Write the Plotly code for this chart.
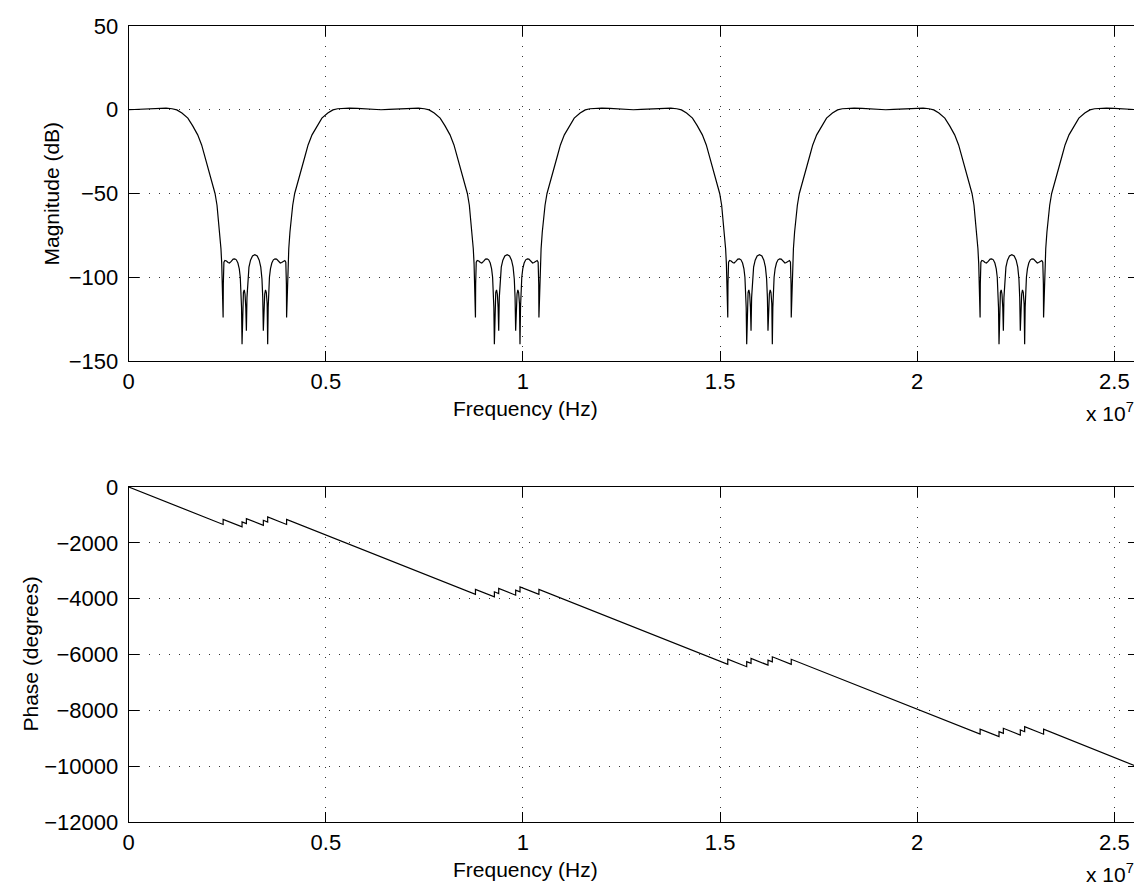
import plotly.graph_objects as go

# ---------------- data (frequency in units of 1e7 Hz) ----------------
# One period of the magnitude response, offsets from the passband centre
period_offset = [
    0.000, 0.020, 0.040, 0.060, 0.080, 0.095, 0.110, 0.122, 0.135, 0.150,
    0.162, 0.175, 0.185, 0.192, 0.199, 0.205, 0.212, 0.219, 0.224, 0.2275,
    0.231, 0.234, 0.236, 0.2375, 0.2395,
    0.2400, 0.2407, 0.2415, 0.2440, 0.2480, 0.2520, 0.2555, 0.2600, 0.2650, 0.2690,
    0.2730, 0.2770, 0.2805, 0.2830, 0.2850, 0.2862, 0.2875, 0.2888, 0.2910, 0.2930,
    0.2950, 0.2970, 0.2985, 0.3000, 0.3020, 0.3050, 0.3090, 0.3140, 0.3200, 0.3260,
    0.3310, 0.3350, 0.3380, 0.3400, 0.3415, 0.3430, 0.3450, 0.3470, 0.3490, 0.3512,
    0.3525, 0.3538, 0.3550, 0.3570, 0.3595, 0.3630, 0.3670, 0.3710, 0.3750, 0.3800,
    0.3845, 0.3880, 0.3920, 0.3960, 0.3985, 0.3993, 0.4000, 0.4005,
    0.4025, 0.404, 0.406, 0.409, 0.4125, 0.416, 0.421, 0.428, 0.435, 0.441,
    0.448, 0.455, 0.465, 0.478, 0.490, 0.505, 0.518, 0.530, 0.545, 0.560,
    0.580, 0.600, 0.620,
]
period_db = [
    0.0, 0.2, 0.5, 0.8, 1.0, 1.0, 0.6, -0.1, -2.0, -5.0,
    -9.5, -15.0, -21.0, -27.0, -33.0, -39.0, -44.5, -50.0, -57.0, -65.0,
    -73.0, -83.0, -92.0, -103.0, -124.0,
    -104.0, -95.0, -91.0, -90.0, -90.3, -91.2, -91.5, -90.5, -89.2, -89.0,
    -89.6, -91.5, -95.0, -100.0, -108.0, -118.0, -140.0, -116.0, -109.0, -107.5,
    -110.0, -118.0, -132.0, -112.0, -101.0, -94.0, -89.8, -87.3, -86.5, -87.3,
    -89.8, -94.0, -101.0, -112.0, -132.0, -118.0, -110.0, -107.5, -109.0, -116.0,
    -140.0, -118.0, -108.0, -100.0, -95.0, -91.5, -89.6, -89.0, -89.2, -90.5,
    -91.5, -91.2, -90.3, -90.0, -91.0, -95.0, -104.0, -124.0,
    -103.0, -92.0, -83.0, -73.0, -65.0, -57.0, -50.0, -44.5, -39.0, -33.0,
    -27.0, -21.0, -15.0, -9.5, -5.0, -2.0, -0.1, 0.6, 1.0, 1.0,
    0.8, 0.5, 0.2,
]
# the response repeats with these passband centres
period_starts = [0.0, 0.64, 1.28, 1.92]
last_freq = 2.56
last_db = 0.0

# Phase: vertices of the piecewise-linear unwrapped phase (degrees)
phase_freq = [
    0.0,
    0.2395, 0.2395, 0.2875, 0.2875, 0.2985, 0.2985,
    0.3415, 0.3415, 0.3525, 0.3525, 0.4005, 0.4005,
    0.8795, 0.8795, 0.9275, 0.9275, 0.9385, 0.9385,
    0.9815, 0.9815, 0.9925, 0.9925, 1.0405, 1.0405,
    1.5195, 1.5195, 1.5675, 1.5675, 1.5785, 1.5785,
    1.6215, 1.6215, 1.6325, 1.6325, 1.6805, 1.6805,
    2.1595, 2.1595, 2.2075, 2.2075, 2.2185, 2.2185,
    2.2615, 2.2615, 2.2725, 2.2725, 2.3205, 2.3205,
    2.56,
]
phase_deg = [
    0.0,
    -1341.2, -1161.2, -1430.0, -1250.0, -1311.6, -1131.6,
    -1372.4, -1192.4, -1254.0, -1074.0, -1342.8, -1162.8,
    -3845.2, -3665.2, -3934.0, -3754.0, -3815.6, -3635.6,
    -3876.4, -3696.4, -3758.0, -3578.0, -3846.8, -3666.8,
    -6349.2, -6169.2, -6438.0, -6258.0, -6319.6, -6139.6,
    -6380.4, -6200.4, -6262.0, -6082.0, -6350.8, -6170.8,
    -8853.2, -8673.2, -8942.0, -8762.0, -8823.6, -8643.6,
    -8884.4, -8704.4, -8766.0, -8586.0, -8854.8, -8674.8,
    -10030.0,
]

x_tick_vals = [0, 0.5, 1, 1.5, 2, 2.5]
x_tick_text = ["0", "0.5", "1", "1.5", "2", "2.5"]
mag_tick_vals = [-150, -100, -50, 0, 50]
mag_tick_text = ["\u2212150", "\u2212100", "\u221250", "0", "50"]
ph_tick_vals = [-12000, -10000, -8000, -6000, -4000, -2000, 0]
ph_tick_text = ["\u221212000", "\u221210000", "\u22128000", "\u22126000",
                "\u22124000", "\u22122000", "0"]

SCALE = 1e7

# ---------------- build series ----------------
mag_f = []
mag_v = []
for s in period_starts:
    for o, d in zip(period_offset, period_db):
        mag_f.append((s + o) * SCALE)
        mag_v.append(d)
mag_f.append(last_freq * SCALE)
mag_v.append(last_db)

ph_f = [f * SCALE for f in phase_freq]

W, H = 1142, 888
FONT = "Liberation Sans, Arial, Helvetica, sans-serif"
TICK_FS = 22
LABEL_FS = 21

x0, x1 = 120.7, 1130.0
top_y0, top_y1 = 18.0, 353.0
bot_y0, bot_y1 = 479.0, 814.0


def fx(p):
    return p / W


def fy(p):
    return 1 - p / H


fig = go.Figure()
fig.add_trace(go.Scatter(x=mag_f, y=mag_v, mode="lines",
                         line=dict(color="black", width=1.2),
                         xaxis="x", yaxis="y", showlegend=False))
fig.add_trace(go.Scatter(x=ph_f, y=phase_deg, mode="lines",
                         line=dict(color="black", width=1.2),
                         xaxis="x2", yaxis="y2", showlegend=False))

axis_common = dict(
    showline=True, linecolor="black", linewidth=1, mirror="ticks",
    ticks="inside", ticklen=10, tickwidth=1, tickcolor="black",
    showgrid=True, gridcolor="#333333", gridwidth=1, griddash="1px,9px",
    zeroline=False, tickfont=dict(family=FONT, size=TICK_FS, color="black"),
    automargin=False,
)

fig.update_layout(
    width=W, height=H,
    margin=dict(l=0, r=0, t=0, b=0),
    paper_bgcolor="white", plot_bgcolor="white",
    xaxis=dict(domain=[fx(x0), fx(x1)], anchor="y", range=[0, 2.56 * SCALE],
               tickvals=[v * SCALE for v in x_tick_vals], ticktext=x_tick_text,
               ticklabelstandoff=1, **axis_common),
    yaxis=dict(domain=[fy(top_y1), fy(top_y0)], anchor="x", range=[-150, 50],
               tickvals=mag_tick_vals, ticktext=mag_tick_text,
               ticklabelstandoff=5, **axis_common),
    xaxis2=dict(domain=[fx(x0), fx(x1)], anchor="y2", range=[0, 2.56 * SCALE],
                tickvals=[v * SCALE for v in x_tick_vals], ticktext=x_tick_text,
                ticklabelstandoff=1, **axis_common),
    yaxis2=dict(domain=[fy(bot_y1), fy(bot_y0)], anchor="x2", range=[-12000, 0],
                tickvals=ph_tick_vals, ticktext=ph_tick_text,
                ticklabelstandoff=5, **axis_common),
)

ann_font = dict(family=FONT, size=LABEL_FS, color="black")
xlabel_x = 517
annotations = [
    dict(text="Frequency (Hz)", x=fx(xlabel_x), y=fy(top_y1 + 47),
         xref="paper", yref="paper", showarrow=False, font=ann_font,
         xanchor="center", yanchor="middle"),
    dict(text="Frequency (Hz)", x=fx(xlabel_x), y=fy(bot_y1 + 47),
         xref="paper", yref="paper", showarrow=False, font=ann_font,
         xanchor="center", yanchor="middle"),
    dict(text="x 10<sup>7</sup>", x=fx(1128), y=fy(top_y1 + 51),
         xref="paper", yref="paper", showarrow=False, font=ann_font,
         xanchor="right", yanchor="middle"),
    dict(text="x 10<sup>7</sup>", x=fx(1128), y=fy(bot_y1 + 51),
         xref="paper", yref="paper", showarrow=False, font=ann_font,
         xanchor="right", yanchor="middle"),
    dict(text="Magnitude (dB)", x=fx(43), y=fy((top_y0 + top_y1) / 2),
         xref="paper", yref="paper", showarrow=False, font=ann_font,
         textangle=-90, xanchor="center", yanchor="middle"),
    dict(text="Phase (degrees)", x=fx(22), y=fy((bot_y0 + bot_y1) / 2),
         xref="paper", yref="paper", showarrow=False, font=ann_font,
         textangle=-90, xanchor="center", yanchor="middle"),
]
fig.update_layout(annotations=annotations)

fig.write_html("out.html")
